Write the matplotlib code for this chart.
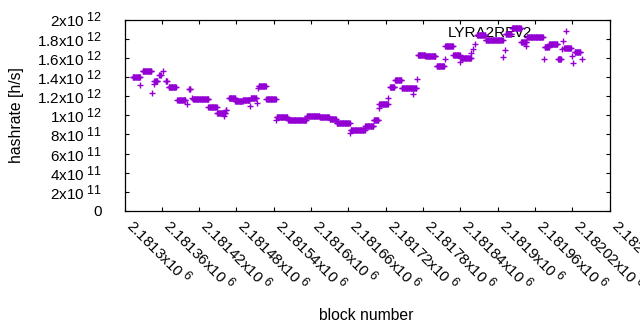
import numpy as np
import matplotlib
matplotlib.use("Agg")
import matplotlib.pyplot as plt
import matplotlib._mathtext as _mt

# gnuplot-like larger superscripts
_mt.SHRINK_FACTOR = 0.82

plt.rcParams['font.family'] = ['Liberation Sans', 'DejaVu Sans']
plt.rcParams['mathtext.fontset'] = 'custom'
plt.rcParams['mathtext.rm'] = 'Liberation Sans'
plt.rcParams['mathtext.it'] = 'Liberation Sans:italic'
plt.rcParams['mathtext.bf'] = 'Liberation Sans:bold'

# ---- data: runs of blocks with the same hashrate estimate ----
block_base = 2181300
run_start = [13, 25, 29, 45, 47, 48, 56, 62, 66, 71, 85, 100, 104, 109, 110, 135, 149, 160, 163,
             168, 178, 190, 202, 203, 213, 215, 216, 228, 244, 245, 263, 293, 314, 330, 341, 363,
             364, 387, 401, 409, 410, 424, 427, 435, 446, 464, 470, 472, 484, 502, 515, 516, 529,
             540, 541, 558, 561, 564, 567, 581, 609, 612, 613, 623, 638, 645, 647, 675, 676, 683,
             697, 703, 706, 707, 719, 722, 724, 735]
run_end = [25, 25, 43, 45, 47, 53, 58, 62, 68, 83, 98, 100, 106, 109, 135, 148, 162, 160, 164,
           178, 190, 201, 202, 212, 213, 215, 227, 243, 244, 262, 292, 313, 329, 340, 362, 363,
           386, 400, 408, 409, 423, 424, 434, 445, 469, 464, 470, 483, 500, 514, 515, 528, 539,
           540, 557, 558, 561, 564, 580, 608, 609, 612, 622, 637, 646, 645, 673, 675, 682, 696,
           702, 703, 706, 718, 719, 722, 733, 735]
run_value_e12 = [1.40, 1.315, 1.458, 1.232, 1.326, 1.36, 1.42, 1.458, 1.354, 1.295, 1.159, 1.12,
                 1.272, 1.18, 1.169, 1.083, 1.02, 0.987, 1.06,
                 1.18, 1.144, 1.162, 1.099, 1.18, 1.128, 1.288, 1.301, 1.17, 0.953, 0.984, 0.953,
                 0.987, 0.978, 0.956, 0.918, 0.813,
                 0.848, 0.883, 0.953, 1.075, 1.12, 1.18, 1.291, 1.368, 1.285, 1.225, 1.379, 1.63,
                 1.62, 1.518, 1.59, 1.72, 1.63,
                 1.557, 1.60, 1.65, 1.693, 1.748, 1.843, 1.787, 1.605, 1.686, 1.85, 1.913, 1.766,
                 1.72, 1.822, 1.591, 1.712, 1.743,
                 1.591, 1.693, 1.773, 1.703, 1.615, 1.546, 1.665, 1.59]

ytick_vals = [0, 2e11, 4e11, 6e11, 8e11, 1e12, 1.2e12, 1.4e12, 1.6e12, 1.8e12, 2e12]
ytick_labels = ['0', r'2x10$^{\ 11}$', r'4x10$^{\ 11}$', r'6x10$^{\ 11}$', r'8x10$^{\ 11}$',
                r'1x10$^{\ 12}$', r'1.2x10$^{\ 12}$', r'1.4x10$^{\ 12}$', r'1.6x10$^{\ 12}$',
                r'1.8x10$^{\ 12}$', r'2x10$^{\ 12}$']
xtick_vals = list(range(2181300, 2182081, 60))
xtick_labels = [r'2.1813x10$^{\ 6}$', r'2.18136x10$^{\ 6}$', r'2.18142x10$^{\ 6}$',
                r'2.18148x10$^{\ 6}$', r'2.18154x10$^{\ 6}$', r'2.1816x10$^{\ 6}$',
                r'2.18166x10$^{\ 6}$', r'2.18172x10$^{\ 6}$', r'2.18178x10$^{\ 6}$',
                r'2.18184x10$^{\ 6}$', r'2.1819x10$^{\ 6}$', r'2.18196x10$^{\ 6}$',
                r'2.18202x10$^{\ 6}$', r'2.18208x10$^{\ 6}$']

xs, ys = [], []
for s, e, v in zip(run_start, run_end, run_value_e12):
    b = np.arange(s, e + 1) + block_base
    xs.append(b)
    ys.append(np.full(b.shape, v * 1e12))
xs = np.concatenate(xs)
ys = np.concatenate(ys)

fig = plt.figure(figsize=(6.4, 3.3), dpi=100)
ax = fig.add_axes([124.5 / 640, 1 - 211 / 330, 485 / 640, 191.5 / 330])
color = '#9400d3'
ax.plot(xs, ys, linestyle='none', marker='+', markersize=5, markeredgewidth=1.0,
        color=color, label='LYRA2REv2', zorder=3)

ax.set_xlim(2181300, 2182080)
ax.set_ylim(0, 2e12)
ax.set_yticks(ytick_vals)
ax.set_yticklabels(ytick_labels)
ax.set_xticks(xtick_vals)
ax.set_xticklabels(xtick_labels, rotation=-45, ha='left', va='baseline', rotation_mode='anchor')
ax.tick_params(direction='in', length=3, width=0.8, top=True, right=True,
               labelsize=11, colors='black')
ax.tick_params(axis='y', pad=16)
ax.tick_params(axis='x', pad=11.5)
for sp in ax.spines.values():
    sp.set_linewidth(0.9)

leg = ax.legend(loc='upper right', bbox_to_anchor=(0.97, 1.0), frameon=False,
                markerfirst=False, numpoints=1, handlelength=3.0, handletextpad=0.72,
                fontsize=11, borderaxespad=0)
leg.set_zorder(1)

fig.text(17 / 640, 1 - 115 / 330, 'hashrate [h/s]', rotation=90, ha='center', va='center',
         fontsize=11.3)
fig.text(366 / 640, 1 - 315 / 330, 'block number', ha='center', va='center', fontsize=11.3)

fig.savefig('out.png', dpi=100)
